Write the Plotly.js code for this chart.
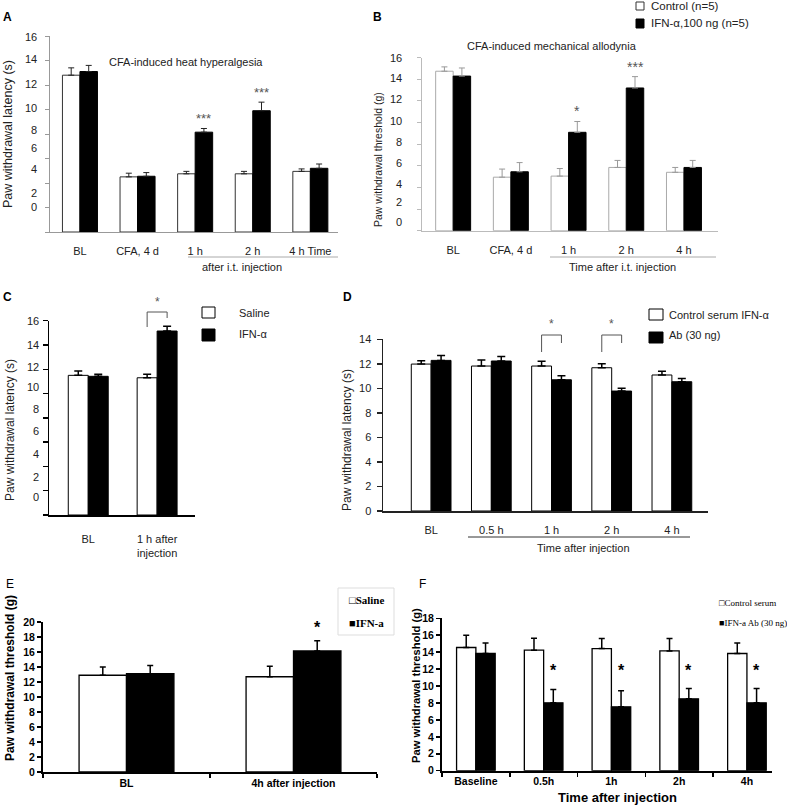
<!DOCTYPE html>
<html>
<head>
<meta charset="utf-8">
<script src="https://cdn.plot.ly/plotly-3.0.1.min.js"></script>
<style>
html, body { margin: 0; padding: 0; background: #fff; }
#chart { width: 787px; height: 805px; }
</style>
</head>
<body>
<div id="chart"></div>
<script>
// A: CFA-induced heat hyperalgesia
let aCats = ['BL', 'CFA, 4 d', '1 h', '2 h', '4 h Time'];
let aCtrl = [12.8, 4.5, 4.75, 4.75, 4.95];
let aCtrlErr = [0.6, 0.3, 0.2, 0.2, 0.2];
let aIfn = [13.1, 4.55, 8.15, 9.9, 5.2];
let aIfnErr = [0.5, 0.3, 0.3, 0.7, 0.35];
let aSig = ['', '', '***', '***', ''];

// B: CFA-induced mechanical allodynia
let bCats = ['BL', 'CFA, 4 d', '1 h', '2 h', '4 h'];
let bCtrl = [14.75, 4.95, 5.05, 5.85, 5.4];
let bCtrlErr = [0.4, 0.75, 0.7, 0.65, 0.45];
let bIfn = [14.3, 5.45, 9.1, 13.2, 5.85];
let bIfnErr = [0.75, 0.85, 1.0, 1.05, 0.65];
let bSig = ['', '', '*', '***', ''];

// C: saline vs IFN-a
let cCats = ['BL', '1 h after<br>injection'];
let cSaline = [11.5, 11.3];
let cSalineErr = [0.35, 0.3];
let cIfn = [11.42, 15.15];
let cIfnErr = [0.18, 0.4];

// D: control serum vs antibody
let dCats = ['BL', '0.5 h', '1 h', '2 h', '4 h'];
let dCtrl = [11.98, 11.82, 11.82, 11.68, 11.09];
let dCtrlErr = [0.27, 0.5, 0.4, 0.32, 0.3];
let dAb = [12.28, 12.23, 10.7, 9.78, 10.54];
let dAbErr = [0.4, 0.37, 0.33, 0.22, 0.27];
let dSig = ['', '', '*', '*', ''];

// E: mechanical threshold, saline vs IFN-a
let eCats = ['BL', '4h after injection'];
let eSaline = [12.9, 12.7];
let eSalineErr = [1.1, 1.4];
let eIfn = [13.1, 16.15];
let eIfnErr = [1.1, 1.35];

// F: mechanical threshold, control serum vs IFN-a Ab
let fCats = ['Baseline', '0.5h', '1h', '2h', '4h'];
let fCtrl = [14.55, 14.23, 14.43, 14.15, 13.84];
let fCtrlErr = [1.45, 1.4, 1.17, 1.45, 1.25];
let fAb = [13.84, 8.02, 7.55, 8.49, 8.02];
let fAbErr = [1.25, 1.58, 1.9, 1.23, 1.7];
let fSig = ['', '*', '*', '*', '*'];

// y tick numbers of A-C, printed off the tick marks in the original figure
let yTickText = ['0', '2', '4', '6', '8', '10', '12', '14', '16'];

const W = 787, H = 805;
const SANS = 'Liberation Sans, Arial, sans-serif';
const SERIF = 'Liberation Serif, Times New Roman, serif';
function px(x) { return x / W; }
function py(y) { return 1 - y / H; }

// bar widths per panel, in category units
const wA = 0.304, wB = 0.303, wC = 0.29, wD = 0.33, wE = 0.284, wF = 0.285;

function pairTraces(cats, v1, e1, v2, e2, xa, ya, w, st) {
    let zeros = cats.map(() => 0);
    let common = {
        type: 'bar', x: cats, xaxis: xa, yaxis: ya, width: w,
        showlegend: false, hoverinfo: 'skip',
    };
    let t1 = Object.assign({}, common, {
        y: v1, offset: -w,
        marker: { color: '#ffffff', line: { color: st.outline, width: st.lw } },
        error_y: { type: 'data', array: e1, arrayminus: zeros, symmetric: false,
            color: st.err, thickness: st.et, width: st.cap },
    });
    let t2 = Object.assign({}, common, {
        y: v2, offset: 0,
        marker: { color: '#000000', line: { color: '#000000', width: st.lw } },
        error_y: { type: 'data', array: e2, arrayminus: zeros, symmetric: false,
            color: st.err, thickness: st.et, width: st.cap },
    });
    return [t1, t2];
}

let data = [].concat(
    pairTraces(aCats, aCtrl, aCtrlErr, aIfn, aIfnErr, 'x', 'y', wA,
        { outline: '#333', lw: 1, err: '#222', et: 1, cap: 3 }),
    pairTraces(bCats, bCtrl, bCtrlErr, bIfn, bIfnErr, 'x2', 'y2', wB,
        { outline: '#aaa', lw: 1, err: '#999', et: 1, cap: 3 }),
    pairTraces(cCats, cSaline, cSalineErr, cIfn, cIfnErr, 'x3', 'y3', wC,
        { outline: '#000', lw: 1, err: '#000', et: 1.5, cap: 4 }),
    pairTraces(dCats, dCtrl, dCtrlErr, dAb, dAbErr, 'x4', 'y4', wD,
        { outline: '#000', lw: 1, err: '#000', et: 1.5, cap: 4 }),
    pairTraces(eCats, eSaline, eSalineErr, eIfn, eIfnErr, 'x5', 'y5', wE,
        { outline: '#000', lw: 1.3, err: '#000', et: 1.5, cap: 3 }),
    pairTraces(fCats, fCtrl, fCtrlErr, fAb, fAbErr, 'x6', 'y6', wF,
        { outline: '#000', lw: 1.3, err: '#000', et: 1.5, cap: 3 })
);

const evens = (n) => Array.from({ length: n / 2 + 1 }, (_, i) => i * 2);

function xAxis(l, r, anchor, range, o) {
    return Object.assign({
        domain: [px(l), px(r)], anchor: anchor, type: 'category', range: range,
        showgrid: false, zeroline: false, showline: true, ticks: '',
        automargin: false, fixedrange: true,
    }, o);
}
function yAxis(top, bottom, anchor, range, o) {
    return Object.assign({
        domain: [py(bottom), py(top)], anchor: anchor, range: range,
        showgrid: false, zeroline: false, showline: true,
        ticks: 'outside', ticklen: 4, automargin: false, fixedrange: true,
    }, o);
}

let tf = { family: SANS, size: 11, color: '#222' };
let tfBold = { family: SANS, size: 10.5, color: '#000', weight: 'bold' };

let layout = {
    width: W, height: H,
    margin: { l: 0, r: 0, t: 0, b: 0 },
    paper_bgcolor: '#fff', plot_bgcolor: 'rgba(0,0,0,0)',
    barmode: 'overlay',
    font: { family: SANS, color: '#222' },

    xaxis: xAxis(50, 338, 'y', [-0.52, 4.48],
        { linecolor: '#999', tickfont: tf, ticklabelstandoff: 9 }),
    yaxis: yAxis(36, 232, 'x', [0, 16],
        { tickvals: evens(16), showticklabels: false, linecolor: '#999', tickcolor: '#999' }),

    xaxis2: xAxis(422, 718, 'y2', [-0.54, 4.59],
        { linecolor: '#bbb', tickfont: tf, ticklabelstandoff: 9 }),
    yaxis2: yAxis(57.7, 230.7, 'x2', [0, 16],
        { tickvals: evens(16), showticklabels: false, linecolor: '#bbb', tickcolor: '#bbb' }),

    xaxis3: xAxis(49, 195, 'y3', [-0.57, 1.55],
        { linecolor: '#000', linewidth: 1.5, tickfont: tf, ticklabelstandoff: 13 }),
    yaxis3: yAxis(320.7, 515, 'x3', [0, 16],
        { tickvals: evens(16), showticklabels: false, linecolor: '#000', linewidth: 1.5,
          tickcolor: '#000', tickwidth: 1.5, ticklen: 5 }),

    xaxis4: xAxis(383, 708, 'y4', [-0.8, 4.6],
        { linecolor: '#222', linewidth: 1.5, tickfont: tf, ticklabelstandoff: 8 }),
    yaxis4: yAxis(339.3, 511, 'x4', [0, 14],
        { tickvals: evens(14), linecolor: '#222', linewidth: 1.5, tickcolor: '#222',
          tickwidth: 1.5, ticklen: 5, tickfont: tf, ticklabelstandoff: 3 }),

    xaxis5: xAxis(43, 377, 'y5', [-0.5, 1.5],
        { linecolor: '#000', linewidth: 2, ticks: 'outside', tickson: 'boundaries',
          ticklen: 4, tickwidth: 1.5, tickcolor: '#000', tickfont: tfBold }),
    yaxis5: yAxis(622, 772, 'x5', [0, 20],
        { tickvals: evens(20), linecolor: '#000', linewidth: 2, tickcolor: '#000',
          tickwidth: 1.5, tickfont: tfBold }),

    xaxis6: xAxis(442, 772, 'y6', [-0.5, 4.37],
        { linecolor: '#000', linewidth: 2, ticks: 'outside', tickson: 'boundaries',
          ticklen: 4, tickwidth: 1.5, tickcolor: '#000', tickfont: tfBold }),
    yaxis6: yAxis(618.3, 770.7, 'x6', [0, 18],
        { tickvals: evens(18), linecolor: '#000', linewidth: 2, tickcolor: '#000',
          tickwidth: 1.5, tickfont: tfBold }),
};

function txt(x, y, text, size, o) {
    return Object.assign({
        xref: 'paper', yref: 'paper', x: px(x), y: py(y), text: text,
        showarrow: false, xanchor: 'center', yanchor: 'middle',
        font: { family: SANS, size: size, color: '#222' },
    }, o);
}
function ytitle(x, y, text, size, o) {
    return txt(x, y, text, size, Object.assign({ textangle: -90 }, o));
}

let ann = [
    // panel letters
    txt(7, 17, '<b>A</b>', 12, { font: { family: SANS, size: 12, color: '#000' } }),
    txt(377, 17, '<b>B</b>', 12, { font: { family: SANS, size: 12, color: '#000' } }),
    txt(7, 297, '<b>C</b>', 12, { font: { family: SANS, size: 12, color: '#000' } }),
    txt(347, 297, '<b>D</b>', 12, { font: { family: SANS, size: 12, color: '#000' } }),
    txt(10, 584, 'E', 12, { font: { family: SANS, size: 12, color: '#000' } }),
    txt(422, 584, 'F', 12, { font: { family: SANS, size: 12, color: '#000' } }),

    // titles
    txt(186, 62, 'CFA-induced heat hyperalgesia', 11),
    txt(552, 46, 'CFA-induced mechanical allodynia', 11),

    // y titles
    ytitle(8, 134, 'Paw withdrawal latency (s)', 12.5),
    ytitle(378, 160, 'Paw withdrawal threshold (g)', 10.5),
    ytitle(10, 430, 'Paw withdrawal latency (s)', 12),
    ytitle(347, 440, 'Paw withdrawal latency (s)', 12),
    ytitle(10, 678, '<b>Paw withdrawal threshold (g)</b>', 12, { font: { family: SANS, size: 12, color: '#000' } }),
    ytitle(416, 686, '<b>Paw withdrawal threshold (g)</b>', 11.2, { font: { family: SANS, size: 11.2, color: '#000' } }),

    // x sub-titles
    txt(242, 267, 'after i.t. injection', 11),
    txt(622, 267, 'Time after i.t. injection', 11),
    txt(583, 548, 'Time after injection', 11),
    txt(617, 797, '<b>Time after injection</b>', 13, { font: { family: SANS, size: 13, color: '#000' } }),

    // legends
    txt(649, 6, 'Control (n=5)', 11.5, { xanchor: 'left' }),
    txt(649, 23, 'IFN-α,100 ng (n=5)', 11.5, { xanchor: 'left' }),
    txt(237, 313, 'Saline', 11, { xanchor: 'left' }),
    txt(237, 334, 'IFN-α', 11, { xanchor: 'left' }),
    txt(667, 315, 'Control serum IFN-α', 11, { xanchor: 'left' }),
    txt(667, 335, 'Ab (30 ng)', 11, { xanchor: 'left' }),
    txt(347, 600, '<b>□Saline</b>', 11, { xanchor: 'left', font: { family: SERIF, size: 11, color: '#000' } }),
    txt(347, 623, '<b>■IFN-a</b>', 11, { xanchor: 'left', font: { family: SERIF, size: 11, color: '#000' } }),
    txt(717, 603, '□Control serum', 9, { xanchor: 'left', font: { family: SERIF, size: 9, color: '#000' } }),
    txt(717, 623, '■IFN-a Ab (30 ng)', 9, { xanchor: 'left', font: { family: SERIF, size: 9, color: '#000' } }),
];

// y tick numbers for A-C, at the heights where they were printed
function tickNumbers(ya, axisX, at) {
    at.forEach((v, i) => {
        ann.push({ xref: 'paper', yref: ya, x: px(axisX), y: v, text: yTickText[i],
            showarrow: false, xanchor: 'right', yanchor: 'middle',
            font: { family: SANS, size: 11, color: '#222' } });
    });
}
tickNumbers('y', 39, [2.05, 3.2, 5.15, 6.85, 8.3, 10.1, 12.1, 14.1, 15.9]);
tickNumbers('y2', 404, [0.83, 2.7, 4.3, 6.25, 8.2, 10.15, 12.15, 14.1, 16]);
tickNumbers('y3', 41, [1.5, 3.1, 5.05, 6.9, 8.7, 10.5, 12.2, 14, 15.95]);

// significance stars placed over the treated bar
aSig.forEach((s, i) => {
    if (s) ann.push({ xref: 'x', yref: 'y', x: i + wA / 2, y: aIfn[i] + aIfnErr[i], yshift: 10,
        text: s, showarrow: false, font: { family: SANS, size: 13, color: '#555' } });
});
bSig.forEach((s, i) => {
    if (s) ann.push({ xref: 'x2', yref: 'y2', x: i + wB / 2, y: bIfn[i] + bIfnErr[i], yshift: 10,
        text: s, showarrow: false, font: { family: SANS, size: 14, color: '#555' } });
});
ann.push({ xref: 'x3', yref: 'paper', x: 1, y: py(302), text: '*', showarrow: false,
    font: { family: SANS, size: 12, color: '#555' } });
dSig.forEach((s, i) => {
    if (s) ann.push({ xref: 'x4', yref: 'paper', x: i, y: py(324), text: s, showarrow: false,
        font: { family: SANS, size: 12, color: '#555' } });
});
ann.push({ xref: 'x5', yref: 'y5', x: 1 + wE / 2, y: eIfn[1] + eIfnErr[1], yshift: 13,
    text: '<b>*</b>', showarrow: false, font: { family: SANS, size: 16, color: '#000' } });
fSig.forEach((s, i) => {
    if (s) ann.push({ xref: 'x6', yref: 'paper', x: i + wF / 2, y: py(681), text: '<b>' + s + '</b>',
        showarrow: false, font: { family: SANS, size: 16, color: '#000' } });
});
layout.annotations = ann;

function rect(x0, y0, x1, y1, fill, line, lw) {
    return { type: 'rect', xref: 'paper', yref: 'paper', x0: px(x0), x1: px(x1), y0: py(y0), y1: py(y1),
        fillcolor: fill, line: { color: line, width: lw } };
}
function hline(x0, x1, y, color) {
    return { type: 'line', xref: 'paper', yref: 'paper', x0: px(x0), x1: px(x1), y0: py(y), y1: py(y),
        line: { color: color, width: 1 } };
}
function bracket(xa, i, w, top, left, right) {
    let ln = (a, b, c, d) => ({ type: 'line', xref: xa, yref: 'paper', x0: a, x1: b, y0: py(c), y1: py(d),
        line: { color: '#555', width: 1 } });
    return [ln(i - w / 2, i - w / 2, left, top), ln(i - w / 2, i + w / 2, top, top), ln(i + w / 2, i + w / 2, top, right)];
}

let shapes = [
    rect(636, 2, 644, 10, '#fff', '#333', 1),
    rect(636, 19, 644, 28, '#000', '#000', 1),
    rect(202, 307, 215, 318, '#fff', '#000', 1),
    rect(202, 329, 215, 341, '#000', '#000', 1),
    rect(649, 309, 663, 320, '#fff', '#000', 1),
    rect(649, 332, 663, 343, '#000', '#000', 1),
    rect(338, 588, 394, 635, 'rgba(0,0,0,0)', '#ddd', 1),
    hline(188, 338, 257, '#aaa'),
    hline(550, 716, 257, '#aaa'),
    hline(468, 690, 537, '#333'),
];
shapes = shapes.concat(bracket('x3', 1, wC, 312, 327, 318));
dSig.forEach((s, i) => {
    if (s) shapes = shapes.concat(bracket('x4', i, wD, 335, 352, 343));
});
layout.shapes = shapes;

Plotly.newPlot('chart', data, layout, { staticPlot: true, displayModeBar: false });
</script>
</body>
</html>
